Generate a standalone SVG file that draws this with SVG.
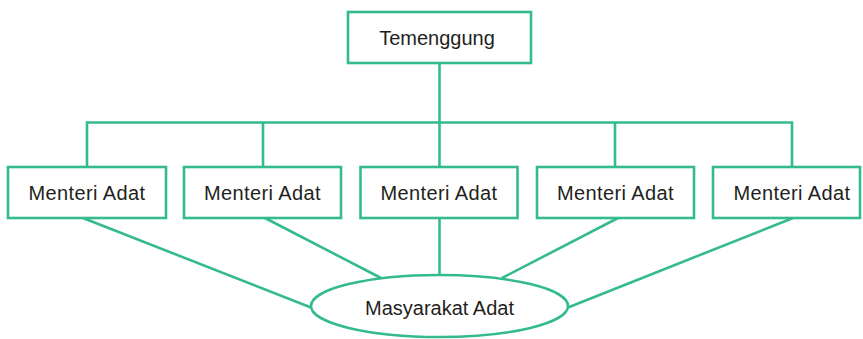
<svg xmlns="http://www.w3.org/2000/svg" width="863" height="339" viewBox="0 0 863 339">
<style>
.box{fill:#fff;stroke:#34ba8f;stroke-width:2.6}
.ln{fill:none;stroke:#34ba8f;stroke-width:2.6}
text{font-family:"Liberation Sans",Arial,sans-serif;font-size:20px;fill:#231f20;text-anchor:middle}
.m{letter-spacing:0.4px}
</style>
<rect width="863" height="339" fill="#fff"/>
<g id="connectors">
<line class="ln" x1="439.5" y1="63" x2="439.5" y2="122.5"/>
<polyline class="ln" points="87,167 87,122.5 792,122.5 792,167"/>
<line class="ln" x1="263" y1="122.5" x2="263" y2="167"/>
<line class="ln" x1="615" y1="122.5" x2="615" y2="167"/>
<line class="ln" x1="439.5" y1="122.5" x2="439.5" y2="167"/>
<line class="ln" x1="83" y1="218" x2="311" y2="307.5"/>
<line class="ln" x1="265" y1="218" x2="381" y2="278"/>
<line class="ln" x1="439.5" y1="218" x2="439.5" y2="275"/>
<line class="ln" x1="618" y1="218" x2="502" y2="278"/>
<line class="ln" x1="793" y1="218" x2="568" y2="307.5"/>
</g>
<g id="temenggung">
<rect class="box" x="348" y="12" width="183" height="51"/>
<text x="437" y="44.5">Temenggung</text>
</g>
<g id="menteri1">
<rect class="box" x="8" y="167" width="158" height="51"/>
<text class="m" x="87" y="199.5">Menteri Adat</text>
</g>
<g id="menteri2">
<rect class="box" x="184" y="167" width="157" height="51"/>
<text class="m" x="262.5" y="199.5">Menteri Adat</text>
</g>
<g id="menteri3">
<rect class="box" x="360.5" y="167" width="157" height="51"/>
<text class="m" x="439" y="199.5">Menteri Adat</text>
</g>
<g id="menteri4">
<rect class="box" x="537" y="167" width="157" height="51"/>
<text class="m" x="615.5" y="199.5">Menteri Adat</text>
</g>
<g id="menteri5">
<rect class="box" x="713" y="167" width="147" height="51"/>
<text class="m" x="792" y="199.5">Menteri Adat</text>
</g>
<g id="masyarakat">
<ellipse class="box" cx="439.5" cy="306" rx="128.5" ry="31"/>
<text x="439.5" y="315">Masyarakat Adat</text>
</g>
</svg>
